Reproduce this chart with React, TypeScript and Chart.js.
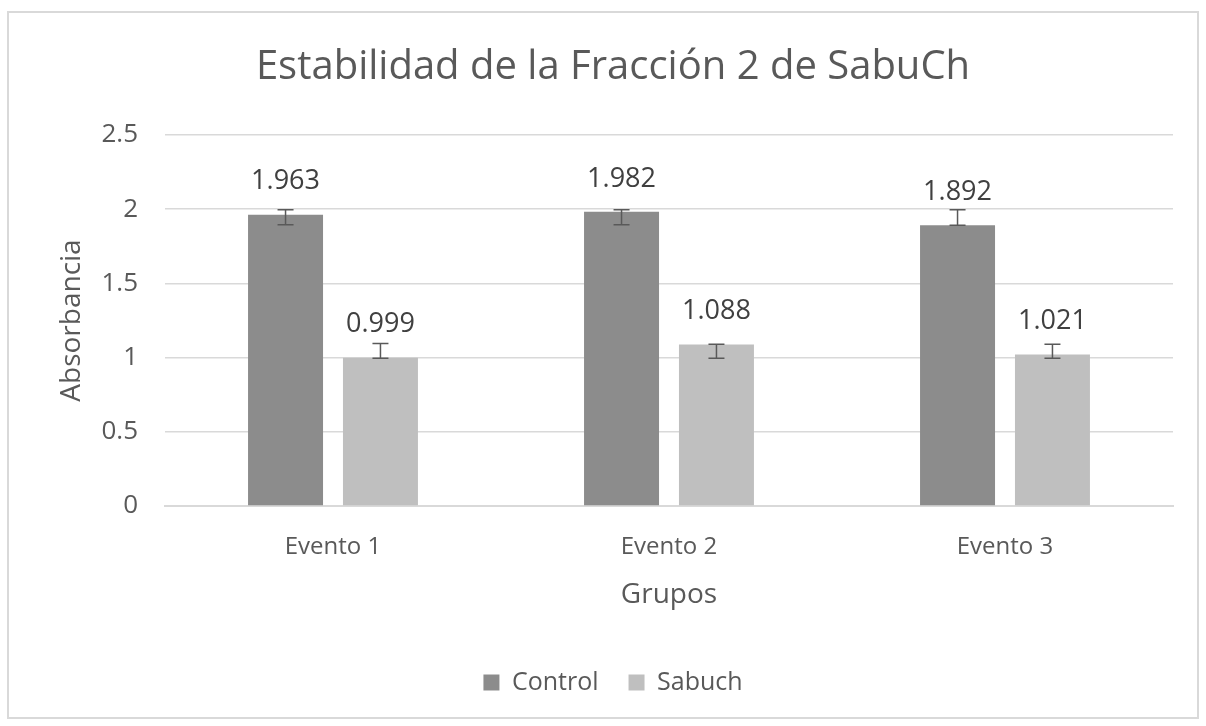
import React, { useEffect, useRef } from "react";
import { Chart, registerables } from "chart.js";

Chart.register(...registerables);

const categories = ["Evento 1", "Evento 2", "Evento 3"];
const controlValues = [1.963, 1.982, 1.892];
const sabuchValues = [0.999, 1.088, 1.021];
const controlErrLow = [1.895, 1.895, 1.892];
const controlErrHigh = [1.996, 1.996, 1.996];
const sabuchErrLow = [0.995, 0.995, 0.995];
const sabuchErrHigh = [1.095, 1.09, 1.09];
const yTicks = [0, 0.5, 1, 1.5, 2, 2.5];
const yTickLabels = ["0", "0.5", "1", "1.5", "2", "2.5"];

const FONT = "'Open Sans', 'Noto Sans', sans-serif";
const TEXT = "#595959";

const errorBarPlugin = {
  id: "errorBars",
  afterDatasetsDraw(chart: any) {
    const ctx = chart.ctx;
    const y = chart.scales.y;
    chart.data.datasets.forEach((ds: any, i: number) => {
      const meta = chart.getDatasetMeta(i);
      meta.data.forEach((bar: any, j: number) => {
        const x = bar.x;
        const yl = y.getPixelForValue(ds.errLow[j]);
        const yh = y.getPixelForValue(ds.errHigh[j]);
        ctx.save();
        ctx.strokeStyle = "#595959";
        ctx.lineWidth = 1.5;
        ctx.beginPath();
        ctx.moveTo(x, yl);
        ctx.lineTo(x, yh);
        ctx.moveTo(x - 8, yl);
        ctx.lineTo(x + 8, yl);
        ctx.moveTo(x - 8, yh);
        ctx.lineTo(x + 8, yh);
        ctx.stroke();
        ctx.restore();
      });
    });
  },
};

const dataLabelPlugin = {
  id: "dataLabels",
  afterDatasetsDraw(chart: any) {
    const ctx = chart.ctx;
    chart.data.datasets.forEach((ds: any, i: number) => {
      const meta = chart.getDatasetMeta(i);
      meta.data.forEach((bar: any, j: number) => {
        ctx.save();
        ctx.fillStyle = "#404040";
        ctx.font = `27px ${FONT}`;
        ctx.textAlign = "center";
        ctx.textBaseline = "middle";
        ctx.fillText(ds.data[j].toFixed(3), bar.x, bar.y - 33);
        ctx.restore();
      });
    });
  },
};

export default function App() {
  const ref = useRef<HTMLCanvasElement>(null);

  useEffect(() => {
    if (!ref.current) return;
    const chart = new Chart(ref.current, {
      type: "bar",
      data: {
        labels: categories,
        datasets: [
          {
            label: "Control",
            data: controlValues,
            backgroundColor: "#8c8c8c",
            borderWidth: 0,
            categoryPercentage: 0.565,
            barPercentage: 0.79,
            errLow: controlErrLow,
            errHigh: controlErrHigh,
          } as any,
          {
            label: "Sabuch",
            data: sabuchValues,
            backgroundColor: "#bfbfbf",
            borderWidth: 0,
            categoryPercentage: 0.565,
            barPercentage: 0.79,
            errLow: sabuchErrLow,
            errHigh: sabuchErrHigh,
          } as any,
        ],
      },
      options: {
        responsive: false,
        animation: false,
        layout: { padding: { top: 12, left: 20, right: 0, bottom: 21 } },
        plugins: {
          title: {
            display: true,
            text: "Estabilidad de la Fracción 2 de SabuCh",
            color: TEXT,
            font: { family: FONT, size: 40, weight: "normal" },
            padding: { top: 32, bottom: 43 },
          },
          legend: {
            display: true,
            position: "bottom",
            labels: {
              color: TEXT,
              font: { family: FONT, size: 25 },
              boxWidth: 16,
              boxHeight: 16,
              padding: 30,
            },
          },
          tooltip: { enabled: false },
        },
        scales: {
          x: {
            grid: { display: false, drawTicks: false },
            border: { display: true, color: "#d9d9d9", width: 2 },
            ticks: { color: TEXT, font: { family: FONT, size: 24 }, padding: 27 },
            title: {
              display: true,
              text: "Grupos",
              color: TEXT,
              font: { family: FONT, size: 28 },
              padding: { top: 0, bottom: 28 },
            },
            afterFit(scale: any) {
              scale.height = 134;
            },
          },
          y: {
            min: 0,
            max: 2.5,
            grid: { color: "#d9d9d9", lineWidth: 1.5, drawTicks: false },
            border: { display: false },
            ticks: {
              color: TEXT,
              font: { family: FONT, size: 26 },
              padding: 27,
              callback: (v: any) => {
                const k = yTicks.indexOf(Number(v));
                return k >= 0 ? yTickLabels[k] : String(v);
              },
            },
            afterBuildTicks(scale: any) {
              scale.ticks = yTicks.map((v) => ({ value: v }));
            },
            title: {
              display: true,
              text: "Absorbancia",
              color: TEXT,
              font: { family: FONT, size: 28 },
              padding: { top: 35, bottom: 0 },
            },
            afterFit(scale: any) {
              scale.width = 145;
            },
          },
          yRight: {
            position: "right",
            display: true,
            grid: { display: false, drawTicks: false },
            border: { display: false },
            ticks: { display: false },
            afterFit(scale: any) {
              scale.width = 33;
            },
          },
        },
      },
      plugins: [errorBarPlugin, dataLabelPlugin],
    } as any);
    return () => chart.destroy();
  }, []);

  return (
    <div style={{ position: "fixed", left: 0, top: 0, width: 1206, height: 726, background: "#ffffff" }}>
      <div
        style={{
          position: "absolute",
          left: 7,
          top: 11,
          width: 1192,
          height: 708,
          border: "2px solid #d9d9d9",
          boxSizing: "border-box",
        }}
      />
      <canvas
        ref={ref}
        width={1206}
        height={726}
        style={{ position: "absolute", left: 0, top: 0, width: 1206, height: 726 }}
      />
    </div>
  );
}
